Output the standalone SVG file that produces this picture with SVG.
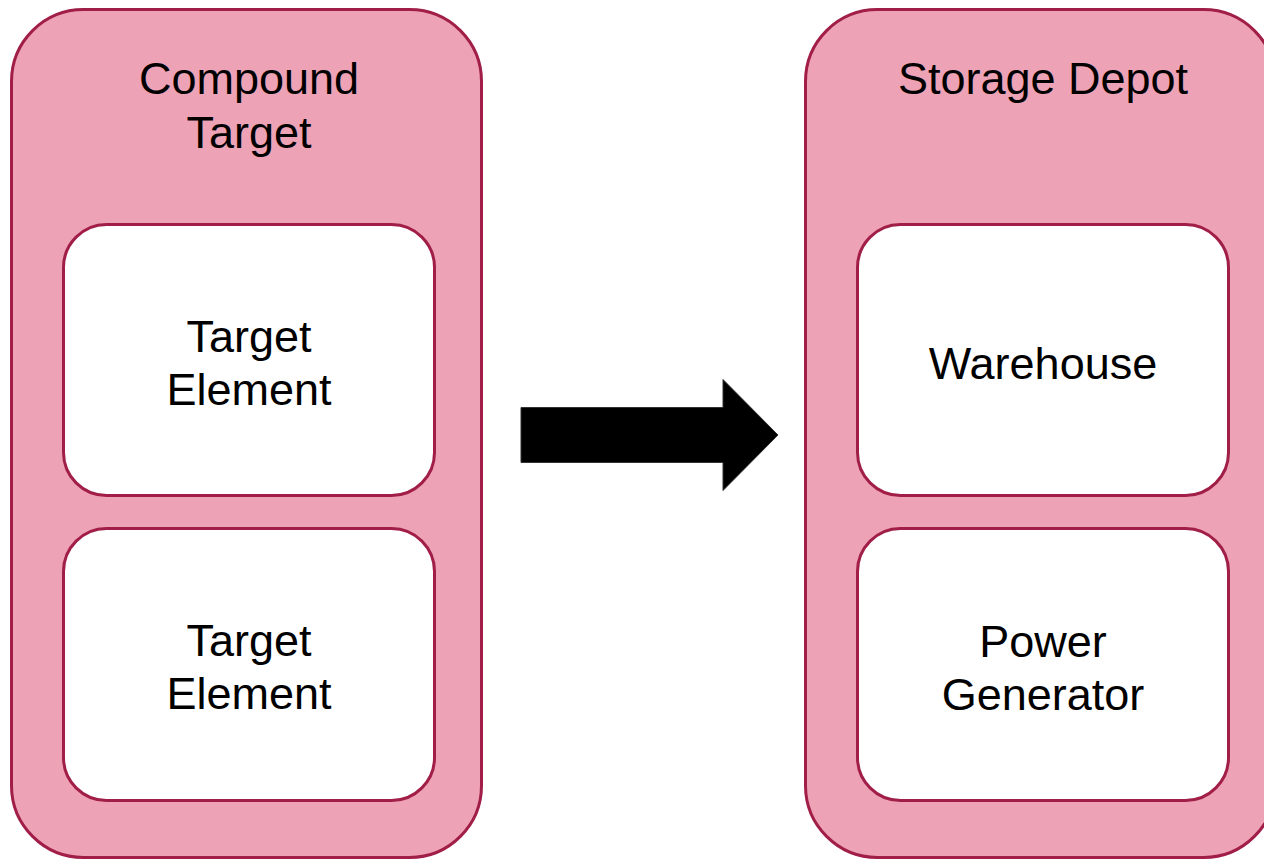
<svg xmlns="http://www.w3.org/2000/svg" width="1264" height="859" viewBox="0 0 1264 859">
  <style>
    .outer { fill: #EEA2B6; stroke: #A01E47; stroke-width: 3; }
    .inner { fill: #FFFFFF; stroke: #A01E47; stroke-width: 3; }
    .label { font-family: "Liberation Sans", Arial, sans-serif; font-size: 45px; fill: #000000; text-anchor: middle; }
  </style>
  <rect width="1264" height="859" fill="#FFFFFF"/>

  <!-- Left container -->
  <g id="compound-target">
    <rect class="outer" x="11.5" y="9.5" width="470" height="848" rx="72" ry="72"/>
    <text class="label" x="249" y="94">Compound</text>
    <text class="label" x="249" y="148">Target</text>
  </g>
  <g id="target-element-1">
    <rect class="inner" x="63.5" y="224.5" width="371" height="271" rx="43" ry="43"/>
    <text class="label" x="249" y="352">Target</text>
    <text class="label" x="249" y="405">Element</text>
  </g>
  <g id="target-element-2">
    <rect class="inner" x="63.5" y="528.5" width="371" height="272" rx="43" ry="43"/>
    <text class="label" x="249" y="656">Target</text>
    <text class="label" x="249" y="709">Element</text>
  </g>

  <!-- Right container -->
  <g id="storage-depot">
    <rect class="outer" x="805.5" y="9.5" width="470" height="848" rx="72" ry="72"/>
    <text class="label" x="1043" y="94">Storage Depot</text>
  </g>
  <g id="warehouse">
    <rect class="inner" x="857.5" y="224.5" width="371" height="271" rx="43" ry="43"/>
    <text class="label" x="1043" y="379">Warehouse</text>
  </g>
  <g id="power-generator">
    <rect class="inner" x="857.5" y="528.5" width="371" height="272" rx="43" ry="43"/>
    <text class="label" x="1043" y="657">Power</text>
    <text class="label" x="1043" y="710">Generator</text>
  </g>

  <!-- Connectors -->
  <g id="connectors">
    <polygon points="521,407.5 723,407.5 723,379.5 778,435 723,490.5 723,462.5 521,462.5" fill="#000000" stroke="#333333" stroke-width="1"/>
  </g>
</svg>
